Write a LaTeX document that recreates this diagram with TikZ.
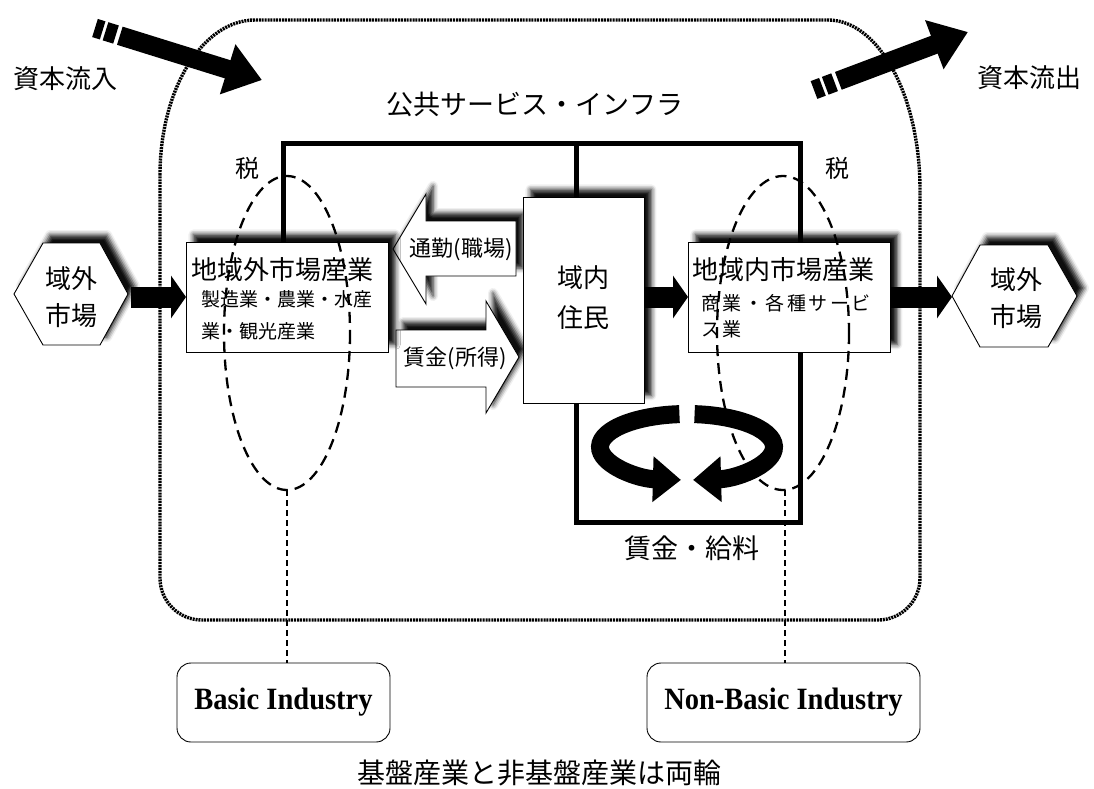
\documentclass[tikz,border=0pt]{standalone}
\usepackage{fontspec}
\setmainfont{Noto Sans CJK JP}
\newfontfamily\enfont[FakeStretch=0.92]{Liberation Serif}
\usetikzlibrary{arrows.meta,calc,shadows.blur}
\begin{document}
\begin{tikzpicture}[x=1pt,y=-1pt,
  shd/.style={blur shadow={shadow xshift=7pt,shadow yshift=8pt,shadow blur radius=5pt,shadow opacity=95}},
  wbox/.style={draw=black,line width=0.9pt,fill=white,shd,inner sep=0pt,anchor=north west},
  wshape/.style={draw=black,line width=0.9pt,fill=white,shd},
  frameline/.style={line width=5pt},
  blk/.style={line width=21pt,opacity=1,-{Triangle[length=15pt,width=42pt]}},
  capbar/.style={line width=19pt},
  caparrow/.style={line width=19pt,-{Triangle[length=36pt,width=50pt]}},
  cycarrow/.style={line width=18pt,opacity=1,-{Triangle[length=28pt,width=44pt]}},
  ell/.style={line width=2.3pt,dash pattern=on 11pt off 7pt},
  lead/.style={line width=2.4pt,dash pattern=on 6pt off 4pt},
  outer/.style={line width=3.4pt,dash pattern=on 2pt off 0.9pt},
  rbox/.style={draw=black,line width=0.9pt,rounded corners=14pt,inner sep=0pt,
    font=\enfont\bfseries\fontsize{31}{33}\selectfont},
  txt/.style={inner sep=0pt,align=center},
  big/.style={font=\fontsize{26}{26}\selectfont},
]
\useasboundingbox (0,0) rectangle (1094,788);

% outer region
\draw[outer] (160,175) arc[start angle=180,end angle=270,x radius=95,y radius=155]
  -- (828,20) arc[start angle=270,end angle=360,x radius=92,y radius=170]
  -- (920,578) arc[start angle=0,end angle=90,radius=42]
  -- (202,620) arc[start angle=90,end angle=180,radius=42] -- cycle;

% capital flows
\coordinate (inA) at (95,28);
\coordinate (inB) at (262,80);
\draw[capbar] (inA) -- ($(inA)!8pt!(inB)$);
\draw[capbar] ($(inA)!11pt!(inB)$) -- ($(inA)!22pt!(inB)$);
\draw[caparrow] ($(inA)!26pt!(inB)$) -- (inB);
\coordinate (outA) at (814,90);
\coordinate (outB) at (968,32);
\draw[capbar] (outA) -- ($(outA)!9pt!(outB)$);
\draw[capbar] ($(outA)!12pt!(outB)$) -- ($(outA)!22pt!(outB)$);
\draw[caparrow] ($(outA)!26pt!(outB)$) -- (outB);
\node[txt,big] (inlab) at (65,79) {資本流入};
\node[txt,big] (outlab) at (1029,78) {資本流出};

% public services frame
\node[txt,font=\fontsize{27}{27}\selectfont] (pub) at (535,104) {公共サービス・インフラ};
\draw[frameline] (283,250) |- (800,143) -- (800,522) -| (576,400);
\draw[frameline] (576,143) -- (576,200);
\node[txt,font=\fontsize{24}{24}\selectfont] (taxL) at (247,168) {税};
\node[txt,font=\fontsize{24}{24}\selectfont] (taxR) at (837,168) {税};
\node[txt,font=\fontsize{27}{27}\selectfont] (wage) at (692,548) {賃金・給料};

% anchor points for connectors
\coordinate (hexLtip) at (131,297);
\coordinate (hexRtip) at (952,297);
\coordinate (extW) at (186,297);
\coordinate (extE) at (888,297);
\coordinate (resE) at (644,297);
\coordinate (intW) at (688,297);

% black arrows (drawn first, boxes cover their ends)
\draw[blk] (hexLtip) -- (extW);
\draw[blk] (resE) -- (intW);
\draw[blk] (extE) -- (hexRtip);

% circulation arrows
\coordinate (cyc) at (687,447);
\draw[cycarrow] ($(cyc)+(265:87 and 33)$) arc[start angle=265,end angle=94,x radius=87,y radius=33];
\draw[cycarrow] ($(cyc)+(275:87 and 33)$) arc[start angle=275,end angle=446,x radius=87,y radius=33];

% hexagons
\draw[wshape] (14,294) -- (43,243) -- (100,243) -- (128,294) -- (100,345) -- (43,345) -- cycle;
\node[txt,font=\fontsize{26}{37}\selectfont] (hexL) at (71,297) {域外\\市場};
\draw[wshape] (952,296) -- (980,245) -- (1048,245) -- (1077,296) -- (1048,347) -- (980,347) -- cycle;
\node[txt,font=\fontsize{26}{37}\selectfont] (hexR) at (1016,298) {域外\\市場};

% block arrows
\draw[wshape] (393,249) -- (426,194) -- (426,221) -- (516,221) -- (516,276) -- (426,276) -- (426,304) -- cycle;
\node[txt,font=\fontsize{22}{22}\selectfont] (commute) at (461,249) {通勤(職場)};
\draw[wshape] (396,330) -- (486,330) -- (486,301) -- (519,357) -- (486,413) -- (486,387) -- (396,387) -- cycle;
\node[txt,font=\fontsize{22}{22}\selectfont] (income) at (455,358) {賃金(所得)};

% boxes
\node[wbox,minimum width=202pt,minimum height=110pt] (extb) at (186,242) {};
\node[txt,anchor=west,big] (extt) at (191,270) {地域外市場産業};
\node[txt,anchor=west,align=left,font=\fontsize{19}{32}\selectfont] (exts) at (201,315) {製造業・農業・水産\\業・観光産業};

\node[wbox,minimum width=121pt,minimum height=206pt] (res) at (523,197) {};
\node[txt,font=\fontsize{26}{40}\selectfont] (rest) at (583,298) {域内\\住民};

\node[wbox,minimum width=202pt,minimum height=110pt] (intb) at (688,242) {};
\node[txt,anchor=west,big] (intt) at (692,270) {地域内市場産業};
\node[txt,anchor=west,align=left,font=\fontsize{19}{26}\selectfont\addfontfeature{LetterSpace=13}] (ints) at (701,316) {商業・各種サービ\\ス業};

% dashed ellipses
\draw[ell] (287,333) ellipse[x radius=63,y radius=157];
\draw[ell] (783,333) ellipse[x radius=66,y radius=157];
\coordinate (ellLb) at (287,490);
\coordinate (ellRb) at (785,490);

% industry boxes
\node[rbox,minimum width=213pt,minimum height=79pt] (basic) at (283.5,702.5) {Basic Industry};
\node[rbox,minimum width=273pt,minimum height=79pt] (nonbasic) at (783.5,702.5) {Non-Basic Industry};
\draw[lead] (ellLb) -- (ellLb |- basic.north);
\draw[lead] (ellRb) -- (ellRb |- nonbasic.north);

\node[txt,font=\fontsize{28}{28}\selectfont] (caption) at (539,773) {基盤産業と非基盤産業は両輪};
\end{tikzpicture}
\end{document}
